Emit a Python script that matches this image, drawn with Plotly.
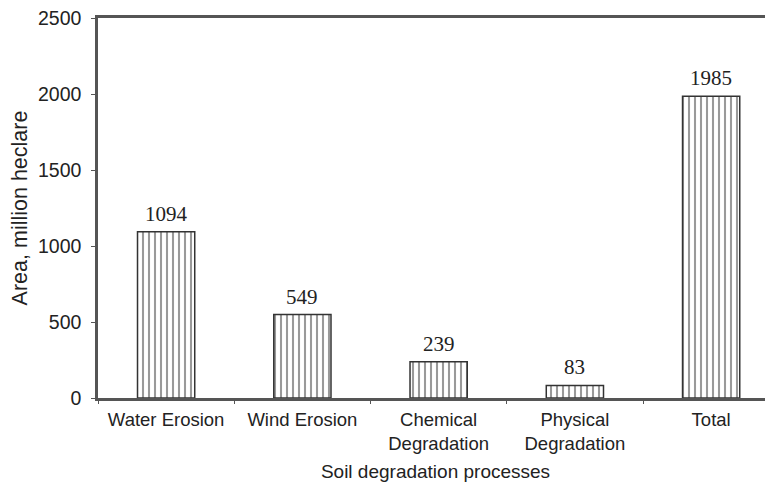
import plotly.graph_objects as go

categories = ["Water Erosion", "Wind Erosion", "Chemical<br>Degradation", "Physical<br>Degradation", "Total"]
values = [1094, 549, 239, 83, 1985]
y_ticks = [0, 500, 1000, 1500, 2000, 2500]

fig = go.Figure()
fig.add_trace(go.Bar(
    x=categories, y=values, width=0.42,
    marker=dict(color="white", line=dict(color="#333333", width=1.5),
                pattern=dict(shape="|", fgcolor="#333333", bgcolor="white", size=6, solidity=0.35)),
    showlegend=False,
))
for c, v in zip(categories, values):
    fig.add_annotation(x=c, y=v, text=str(v), showarrow=False, yanchor="bottom", yshift=4,
                       font=dict(family="Liberation Serif", size=21, color="#222"))

# page body has an 8px offset; figure sized to fill the window
fig.update_layout(
    width=765, height=475,
    margin=dict(l=90, r=0, t=10, b=85),
    paper_bgcolor="white", plot_bgcolor="white",
    font=dict(family="Liberation Sans", size=18, color="#222"),
)
fig.update_xaxes(
    range=[-0.5, 4.454], showline=True, linecolor="#555", linewidth=2.5, mirror=True,
    ticks="outside", tickson="boundaries", ticklen=3, tickcolor="#555",
    tickfont=dict(size=18.5), ticklabelstandoff=3,
    title=dict(text="Soil degradation processes", font=dict(size=19), standoff=12),
    showgrid=False, automargin=False,
)
fig.update_yaxes(
    range=[0, 2500], tickvals=y_ticks, showline=True, linecolor="#555", linewidth=2.5,
    ticks="outside", ticklen=4, tickcolor="#555", tickfont=dict(size=19.5),
    ticklabelstandoff=6, ticklabeloverflow="allow",
    title=dict(text="Area, million heclare", font=dict(size=21.5), standoff=9),
    showgrid=False, zeroline=False, automargin=False,
)
fig.write_html("out.html")
